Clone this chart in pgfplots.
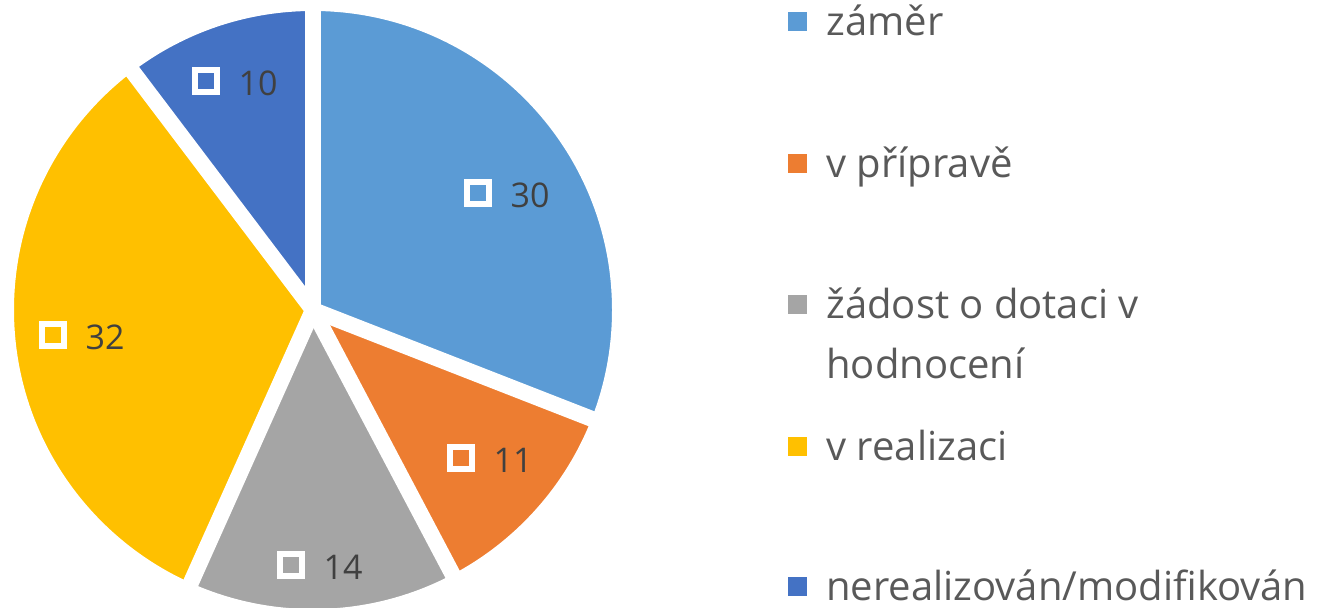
\documentclass[border=0pt]{standalone}
\usepackage{pgfplots}
\pgfplotsset{compat=1.18}
\usepackage{pgfplotstable}
\usepackage{fontspec}
\setmainfont{Open Sans}

\definecolor{zamer}{HTML}{5B9BD5}
\definecolor{priprava}{HTML}{ED7D31}
\definecolor{zadost}{HTML}{A5A5A5}
\definecolor{realizace}{HTML}{FFC000}
\definecolor{nereal}{HTML}{4472C4}
\definecolor{legtext}{HTML}{595959}
\definecolor{labtext}{HTML}{404040}

% data label positions (axis units = px of the reference) and values
\pgfplotstableread{
x   y   val
478 415 30
461 150 11
291 43  14
53  273 32
206 527 10
}\labeldata

% pie: centre, radius in pt, total of the values
\def\cx{313}
\def\cy{298}
\def\R{153.5pt}
\def\total{97}

% #1 = cumulative value before the slice, #2 = value, #3 = colour
\newcommand{\slice}[3]{%
  \fill[#3] (axis cs:\cx,\cy) -- ++({90-#1/\total*360}:\R)
    arc[start angle={90-#1/\total*360}, end angle={90-(#1+#2)/\total*360}, radius=\R] -- cycle;
}
\newcommand{\cut}[1]{%
  \draw[white, line width=8pt] (axis cs:\cx,\cy) -- ++({90-#1/\total*360}:165pt);
}
\newcommand{\legitem}[3]{%
  \fill[#1] (axis cs:787.5,#2-9.5) rectangle (axis cs:806.5,#2+9.5);
  \node[anchor=base west, inner sep=0pt, text=legtext, font=\fontsize{20}{24}\selectfont]
    at (axis cs:826,#2-13.5) {#3};
}

\begin{document}
\begin{tikzpicture}
\begin{axis}[
  name=pie,
  x=0.5pt, y=0.5pt,
  xmin=0, xmax=1322, ymin=0, ymax=608,
  hide axis,
  clip=false,
]
% slices: 30, 11, 14, 32, 10
\slice{0}{30}{zamer}
\slice{30}{11}{priprava}
\slice{41}{14}{zadost}
\slice{55}{32}{realizace}
\slice{87}{10}{nereal}
% white separators
\cut{0}\cut{30}\cut{41}\cut{55}\cut{87}
\draw[white, line width=8pt] (axis cs:\cx,\cy) circle[radius=\R];

% data labels
\addplot[only marks, mark=square, mark size=5.5pt,
  mark options={draw=white, line width=2.6pt, solid},
  point meta=explicit symbolic,
  nodes near coords,
  nodes near coords style={anchor=west, inner sep=0pt, xshift=15pt, yshift=-1pt,
    text=labtext, font=\fontsize{17}{20}\selectfont},
] table[x=x, y=y, meta=val] {\labeldata};

% legend
\legitem{zamer}{586}{záměr}
\legitem{priprava}{444}{v přípravě}
\legitem{zadost}{303}{žádost o dotaci v}
\node[anchor=base west, inner sep=0pt, text=legtext, font=\fontsize{20}{24}\selectfont]
  at (axis cs:826,229) {hodnocení};
\legitem{realizace}{161}{v realizaci}
\legitem{nereal}{21}{nerealizován/modifikován}
\end{axis}
\pgfresetboundingbox
\path (pie.south west) rectangle (pie.north east);
\end{tikzpicture}
\end{document}
